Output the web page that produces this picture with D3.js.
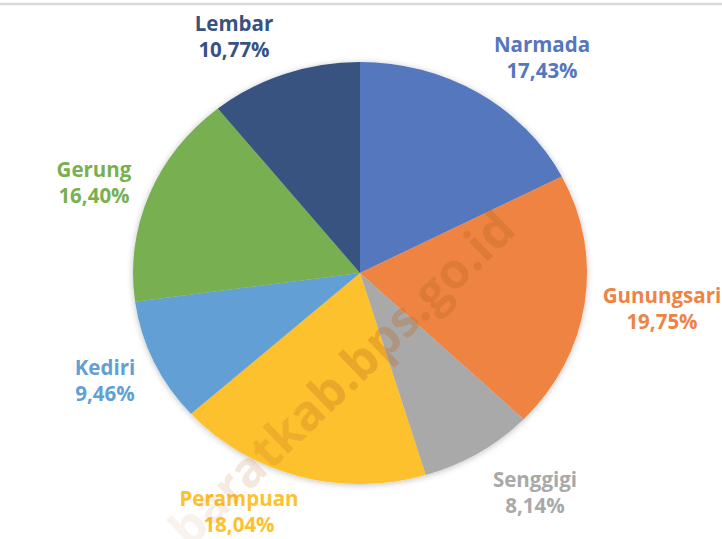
<!DOCTYPE html>
<html>
<head>
<meta charset="utf-8">
<script src="https://cdn.jsdelivr.net/npm/d3@7"></script>
<style>
  body { margin: 0; background: #fff; }
  text { font-family: "Open Sans", sans-serif; font-weight: 700; }
</style>
</head>
<body>
<div id="chart"></div>
<script>
const categories = ["Narmada", "Gunungsari", "Senggigi", "Perampuan", "Kediri", "Gerung", "Lembar"];
const shares = [17.43, 19.75, 8.14, 18.04, 9.46, 16.40, 10.77];
const colors = ["#5477be", "#ee8343", "#a9a9a9", "#fdc12e", "#629fd4", "#78b051", "#38527f"];
// label anchor points (centre x, baseline of first line)
const labelPos = [[542, 52], [662, 303], [535, 487], [239, 506], [105, 375], [94, 177], [234, 31]];

const width = 722, height = 539;
const cx = 360, cy = 273, ry = 211, rx = 227;

const svg = d3.select("#chart").append("svg")
    .attr("width", width)
    .attr("height", height);

const defs = svg.append("defs");
defs.append("filter")
    .attr("id", "shadow")
    .attr("x", "-10%").attr("y", "-10%")
    .attr("width", "120%").attr("height", "120%")
    .append("feDropShadow")
    .attr("dx", 0).attr("dy", 1)
    .attr("stdDeviation", 3)
    .attr("flood-color", "#000")
    .attr("flood-opacity", 0.25);

// watermark fades out towards its start
const wmGrad = defs.append("linearGradient")
    .attr("id", "wmfade")
    .attr("gradientUnits", "userSpaceOnUse")
    .attr("x1", -440).attr("y1", 0)
    .attr("x2", 0).attr("y2", 0);
wmGrad.append("stop").attr("offset", 0).attr("stop-color", "#b8651c").attr("stop-opacity", 0.08);
wmGrad.append("stop").attr("offset", 0.45).attr("stop-color", "#b8651c").attr("stop-opacity", 0.28);
wmGrad.append("stop").attr("offset", 1).attr("stop-color", "#b8651c").attr("stop-opacity", 0.3);

// thin rule at the top
svg.append("line")
    .attr("x1", 0).attr("x2", width)
    .attr("y1", 4).attr("y2", 4)
    .attr("stroke", "#d9d9d9")
    .attr("stroke-width", 2.5);

const pie = d3.pie().sort(null).value(d => d);
const arc = d3.arc().innerRadius(0).outerRadius(ry);

const g = svg.append("g")
    .attr("transform", `translate(${cx},${cy}) scale(${rx / ry},1)`)
    .attr("filter", "url(#shadow)");

g.selectAll("path")
    .data(pie(shares))
    .enter()
    .append("path")
    .attr("d", arc)
    .attr("fill", (d, i) => colors[i]);

const fmt = v => v.toFixed(2).replace(".", ",") + "%";

const labels = svg.selectAll(".label")
    .data(categories)
    .enter()
    .append("text")
    .attr("class", "label")
    .attr("text-anchor", "middle")
    .attr("font-size", 20.5)
    .attr("fill", (d, i) => colors[i]);

labels.append("tspan")
    .attr("x", (d, i) => labelPos[i][0])
    .attr("y", (d, i) => labelPos[i][1])
    .text(d => d);

labels.append("tspan")
    .attr("x", (d, i) => labelPos[i][0])
    .attr("y", (d, i) => labelPos[i][1] + 25.5)
    .text((d, i) => fmt(shares[i]));

// watermark
svg.append("text")
    .attr("transform", "translate(518,232) rotate(-44)")
    .attr("text-anchor", "end")
    .attr("font-size", 49)
    .attr("fill", "url(#wmfade)")
    .text("baratkab.bps.go.id");
</script>
</body>
</html>
